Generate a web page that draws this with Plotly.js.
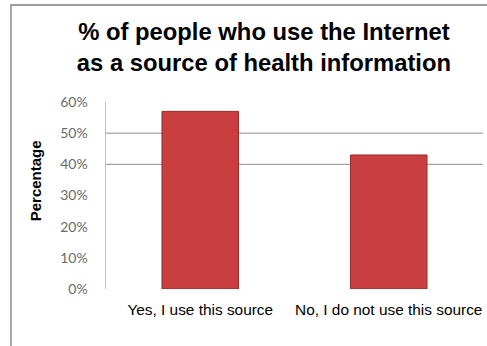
<!DOCTYPE html>
<html>
<head>
<meta charset="utf-8">
<script src="https://cdn.plot.ly/plotly-3.0.1.min.js"></script>
<style>
  html, body { margin: 0; padding: 0; background: #ffffff; }
  #wrap { position: relative; width: 487px; height: 346px; overflow: hidden; }
  #frame { position: absolute; left: 10px; top: 4px; width: 600px; height: 400px;
           border-top: 2px solid #9c9c9c; border-left: 2px solid #a6a6a6; box-sizing: border-box; }
  #chart { position: absolute; left: 0; top: 0; width: 487px; height: 346px; }
</style>
</head>
<body>
<div id="wrap">
  <div id="frame"></div>
  <div id="chart"></div>
</div>
<script>
const categories = ["Yes, I use this source", "No, I do not use this source"];
const percentages = [0.57, 0.43];
const tickValues = [0, 0.1, 0.2, 0.3, 0.4, 0.5, 0.6];
const tickLabels = ["0%", "10%", "20%", "30%", "40%", "50%", "60%"];
const gridValues = [0.4, 0.5];
const chartTitle = "% of people who use the Internet<br>as a source of health information";
const yTitle = "Percentage";

const trace = {
  type: "bar",
  x: categories,
  y: percentages,
  marker: { color: "#c93e3e", line: { color: "#9b2b2b", width: 1 } },
  hoverinfo: "skip"
};

const shapes = gridValues.map(v => ({
  type: "line", xref: "paper", yref: "y", x0: 0, x1: 1, y0: v, y1: v,
  line: { color: "#8c8c8c", width: 1 }, layer: "below"
}));

const layout = {
  width: 487, height: 346,
  margin: { l: 106, r: 4, t: 102, b: 56.5, pad: 0 },
  paper_bgcolor: "rgba(0,0,0,0)",
  plot_bgcolor: "rgba(0,0,0,0)",
  showlegend: false,
  bargap: 0.594,
  title: {
    text: chartTitle,
    font: { family: "Liberation Sans, Arial, sans-serif", size: 23.8, color: "#000000", weight: "bold" },
    x: 0.542, xref: "container", xanchor: "center",
    y: 0.883, yref: "container", yanchor: "top"
  },
  xaxis: {
    type: "category",
    showgrid: false, zeroline: false, showline: false, ticks: "",
    tickfont: { family: "Liberation Sans, Arial, sans-serif", size: 15.4, color: "#000000" },
    ticklabelstandoff: 10
  },
  yaxis: {
    range: [0, 0.6],
    tickvals: tickValues, ticktext: tickLabels,
    showgrid: false, zeroline: false,
    showline: true, linecolor: "#c0c0c0", linewidth: 1.5,
    ticks: "",
    ticklabelstandoff: 14,
    tickfont: { family: "Lato, Carlito, sans-serif", size: 14, color: "#6a6a6a" }
  },
  shapes: shapes,
  annotations: [{
    text: "<b>" + yTitle + "</b>",
    xref: "paper", yref: "paper",
    x: (35.5 - 106) / 377, y: (289.5 - 181) / 187.5,
    xanchor: "center", yanchor: "middle",
    textangle: -90, showarrow: false,
    font: { family: "Liberation Sans, Arial, sans-serif", size: 15, color: "#000000" }
  }]
};

Plotly.newPlot("chart", [trace], layout, { displayModeBar: false, staticPlot: true });
</script>
</body>
</html>
